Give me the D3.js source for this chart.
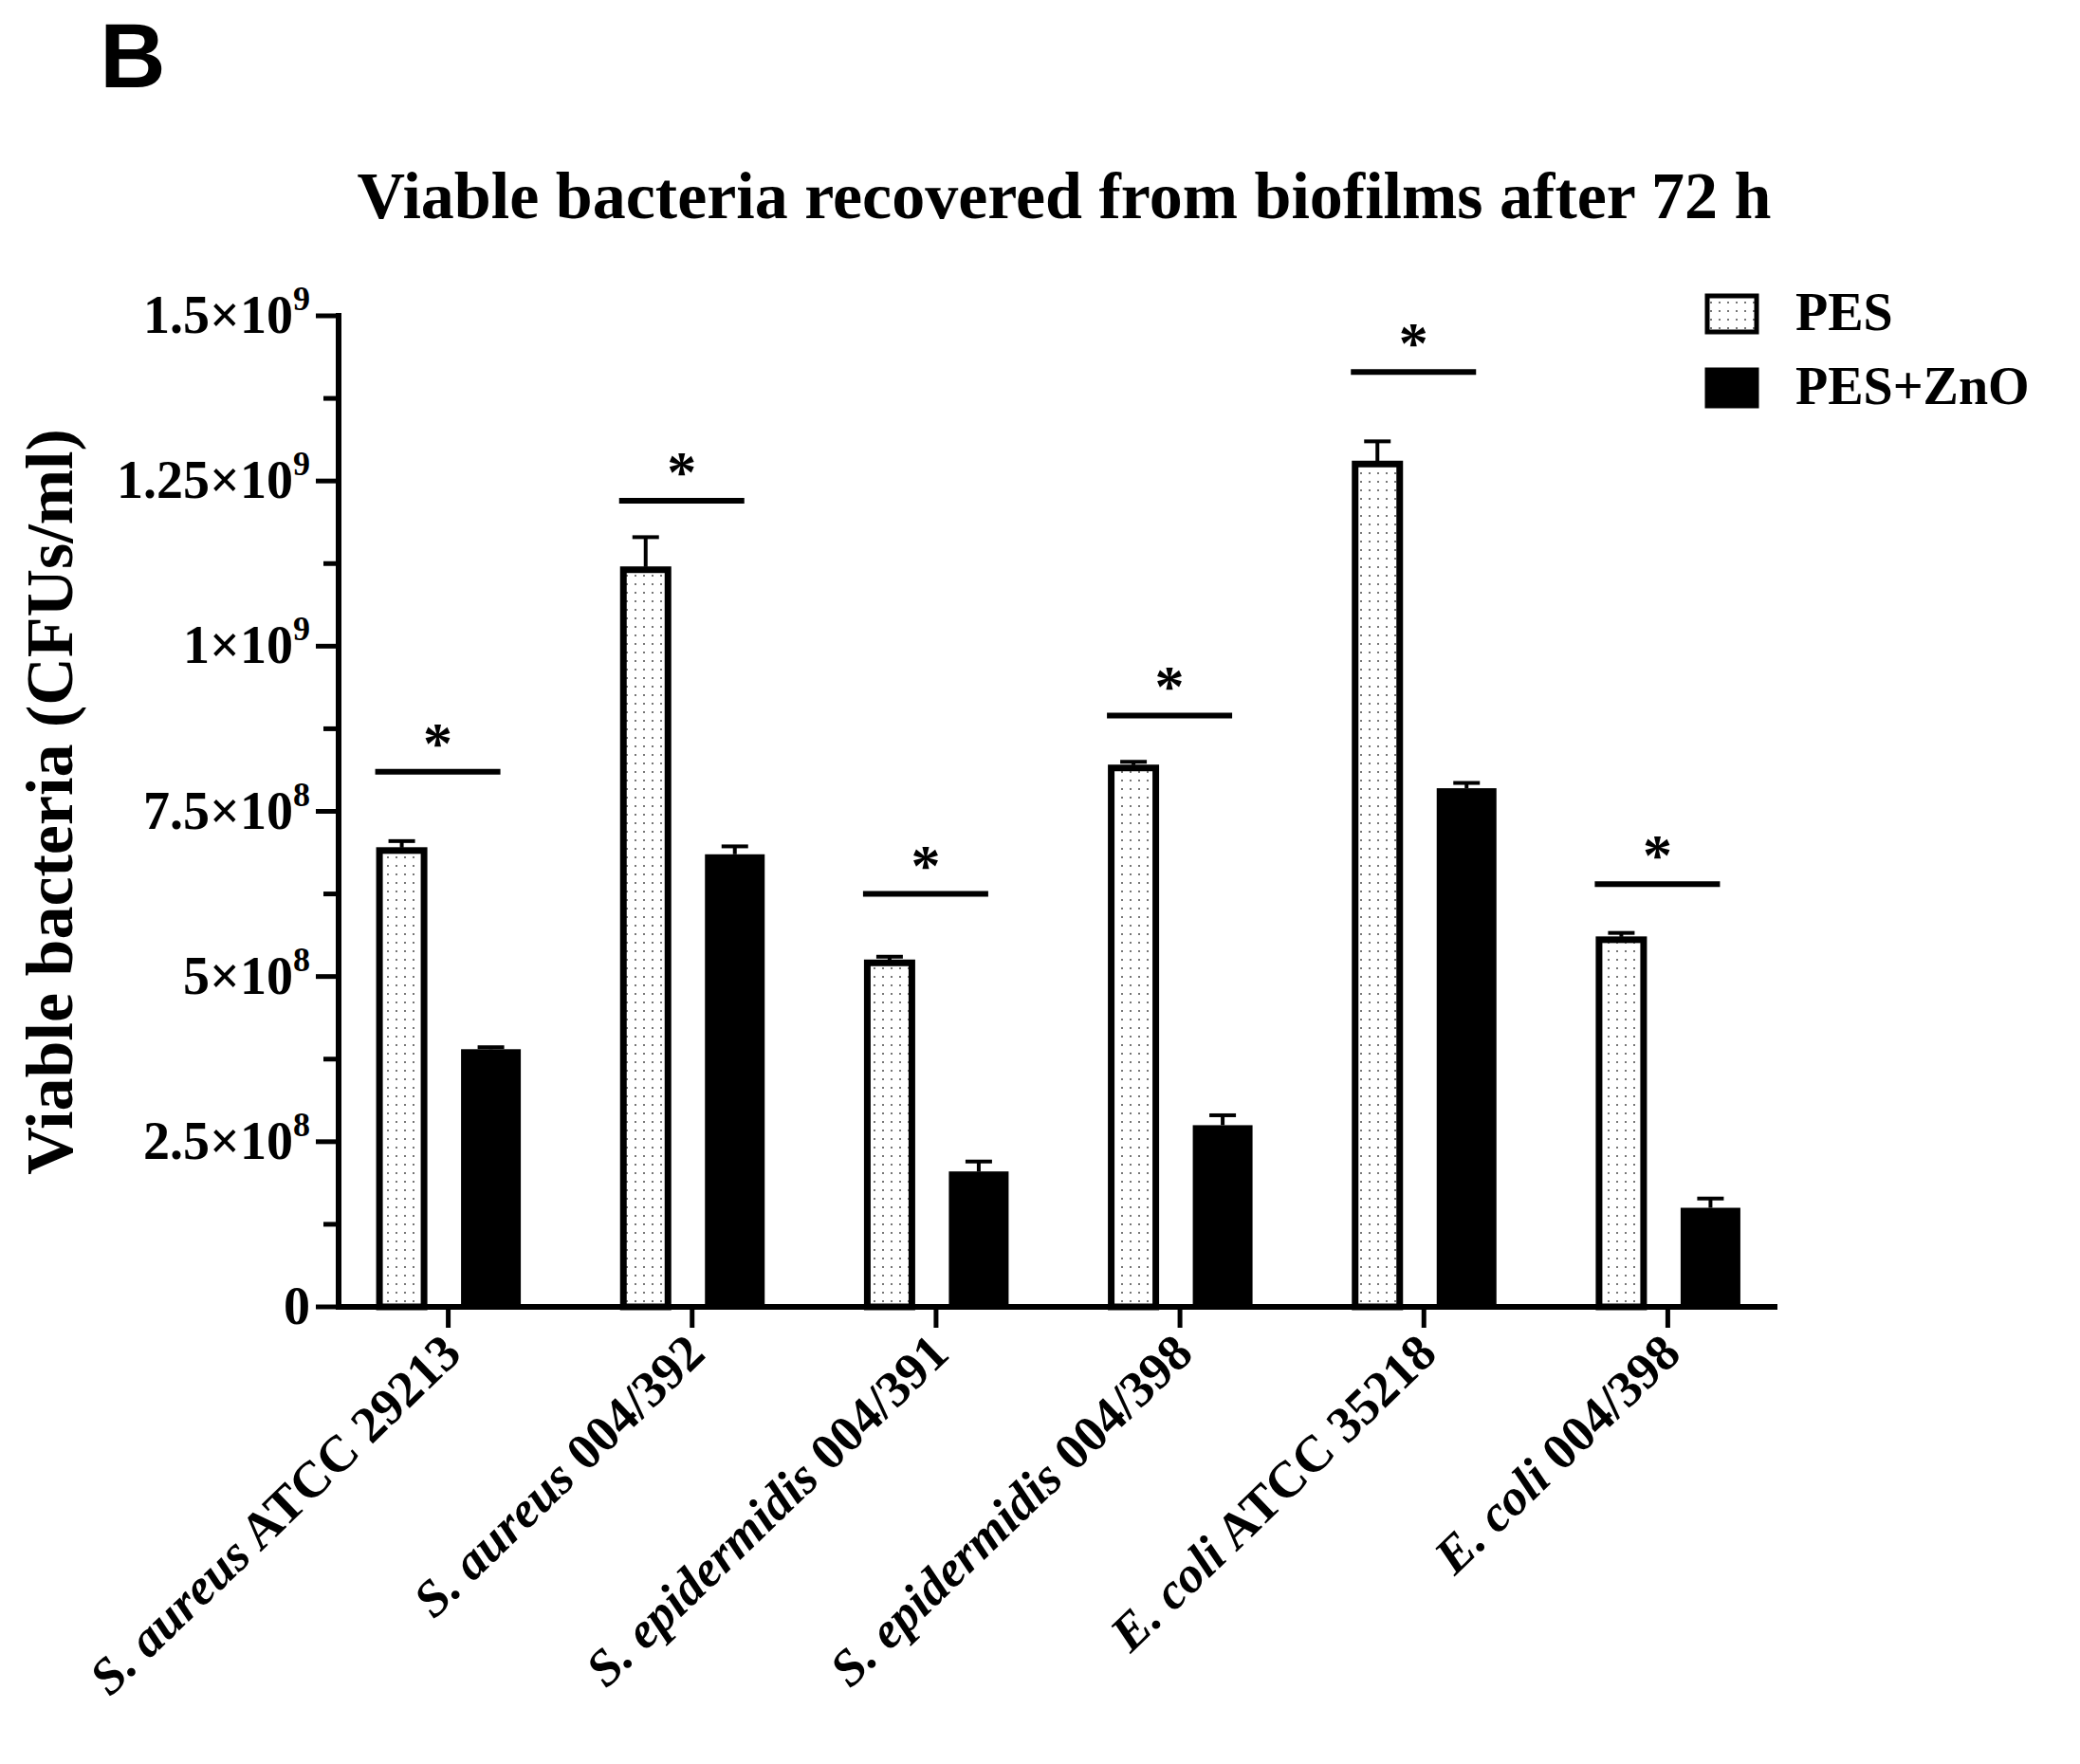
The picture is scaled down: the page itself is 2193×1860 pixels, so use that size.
<!DOCTYPE html><html><head><meta charset="utf-8"><script src="https://d3js.org/d3.v7.min.js"></script>
<style>body{margin:0;background:#fff}</style></head><body><svg id="c" width="2193" height="1860"></svg>
<script>
const categories=[["S. aureus"," ATCC 29213"],["S. aureus"," 004/392"],["S. epidermidis"," 004/391"],["S. epidermidis"," 004/398"],["E. coli"," ATCC 35218"],["E. coli"," 004/398"]];
const pes=[0.695e9,1.12e9,0.525e9,0.82e9,1.28e9,0.56e9];
const pesErr=[0.01e9,0.045e9,0.005e9,0.005e9,0.03e9,0.006e9];
const zno=[0.39e9,0.685e9,0.205e9,0.275e9,0.785e9,0.15e9];
const znoErr=[0.003e9,0.012e9,0.015e9,0.015e9,0.008e9,0.014e9];
const sig=[0.81e9,1.22e9,0.625e9,0.895e9,1.415e9,0.64e9];
const yTicks=[0,2.5e8,5e8,7.5e8,1e9,1.25e9,1.5e9];
const yTickLabels=[["0",""],["2.5×10","8"],["5×10","8"],["7.5×10","8"],["1×10","9"],["1.25×10","9"],["1.5×10","9"]];
const svg=d3.select("#c");const F="Liberation Serif, Times New Roman, serif";
const x0=357,x1=1874,yb=1378,yt=333;
const x=d3.scaleBand().domain(d3.range(6)).range([344,1887]);
const y=d3.scaleLinear().domain([0,1.5e9]).range([yb,yt]);
const bw=53,offP=-49,offZ=45;
const defs=svg.append("defs");
const p=defs.append("pattern").attr("id","dots").attr("width",9).attr("height",9).attr("patternUnits","userSpaceOnUse");
p.append("rect").attr("width",9).attr("height",9).attr("fill","#fff");
p.append("rect").attr("x",3).attr("y",3).attr("width",2).attr("height",2).attr("fill","#777");
const cx=i=>x(i)+x.bandwidth()/2;
svg.append("text").attr("x",140).attr("y",92).attr("font-family","Liberation Sans, Arial").attr("font-weight","bold").attr("font-size",96).attr("text-anchor","middle").text("B");
svg.append("text").attr("x",1122).attr("y",230).attr("font-family",F).attr("font-weight","bold").attr("font-size",70).attr("text-anchor","middle").text("Viable bacteria recovered from biofilms after 72 h");
pes.forEach((v,i)=>{const c=cx(i)+offP;
 svg.append("line").attr("x1",c).attr("x2",c).attr("y1",y(v)).attr("y2",y(v+pesErr[i])).attr("stroke","#000").attr("stroke-width",4);
 svg.append("line").attr("x1",c-14).attr("x2",c+14).attr("y1",y(v+pesErr[i])).attr("y2",y(v+pesErr[i])).attr("stroke","#000").attr("stroke-width",4);
 svg.append("rect").attr("x",c-bw/2+3).attr("y",y(v)+3).attr("width",bw-6).attr("height",yb-y(v)-3).attr("fill","url(#dots)").attr("stroke","#000").attr("stroke-width",7);});
zno.forEach((v,i)=>{const c=cx(i)+offZ;
 svg.append("line").attr("x1",c).attr("x2",c).attr("y1",y(v)).attr("y2",y(v+znoErr[i])).attr("stroke","#000").attr("stroke-width",4);
 svg.append("line").attr("x1",c-14).attr("x2",c+14).attr("y1",y(v+znoErr[i])).attr("y2",y(v+znoErr[i])).attr("stroke","#000").attr("stroke-width",4);
 svg.append("rect").attr("x",c-bw/2-5).attr("y",y(v)).attr("width",bw+10).attr("height",yb-y(v)).attr("fill","#000");});
sig.forEach((v,i)=>{const c=cx(i)-11;
 svg.append("line").attr("x1",c-66).attr("x2",c+66).attr("y1",y(v)).attr("y2",y(v)).attr("stroke","#000").attr("stroke-width",6);
 svg.append("text").attr("x",c).attr("y",y(v)-10).attr("font-family",F).attr("font-weight","bold").attr("font-size",62).attr("text-anchor","middle").text("*");});
svg.append("line").attr("x1",x0).attr("x2",x0).attr("y1",yt-3).attr("y2",yb+3).attr("stroke","#000").attr("stroke-width",6);
svg.append("line").attr("x1",x0-3).attr("x2",x1).attr("y1",yb).attr("y2",yb).attr("stroke","#000").attr("stroke-width",6);
d3.range(0,1.5e9+1,1.25e8).forEach(t=>{const major=yTicks.includes(t);
 svg.append("line").attr("x1",x0-(major?24:16)).attr("x2",x0).attr("y1",y(t)).attr("y2",y(t)).attr("stroke","#000").attr("stroke-width",5);});
yTicks.forEach((t,i)=>{const tx=svg.append("text").attr("x",x0-30).attr("y",y(t)+18).attr("font-family",F).attr("font-weight","bold").attr("font-size",56).attr("text-anchor","end");
 tx.append("tspan").text(yTickLabels[i][0]);if(yTickLabels[i][1])tx.append("tspan").attr("dy",-24).attr("font-size",36).text(yTickLabels[i][1]);});
svg.append("text").attr("transform",`translate(76,${(yt+yb)/2-10}) rotate(-90)`).attr("font-family",F).attr("font-weight","bold").attr("font-size",70).attr("text-anchor","middle").text("Viable bacteria (CFUs/ml)");
categories.forEach((c,i)=>{svg.append("line").attr("x1",cx(i)).attr("x2",cx(i)).attr("y1",yb).attr("y2",yb+22).attr("stroke","#000").attr("stroke-width",5);
 const t=svg.append("text").attr("transform",`translate(${cx(i)+16},${yb+52}) rotate(-44)`).attr("font-family",F).attr("font-weight","bold").attr("font-size",54).attr("text-anchor","end");
 t.append("tspan").attr("font-style","italic").text(c[0]);t.append("tspan").text(c[1]);});
const leg=[["PES","url(#dots)"],["PES+ZnO","#000"]];
leg.forEach((l,i)=>{const yy=312+i*78;
 svg.append("rect").attr("x",1800).attr("y",yy).attr("width",52).attr("height",38).attr("fill",l[1]).attr("stroke","#000").attr("stroke-width",5);
 svg.append("text").attr("x",1893).attr("y",yy+36).attr("font-family",F).attr("font-weight","bold").attr("font-size",56).text(l[0]);});
</script></body></html>
